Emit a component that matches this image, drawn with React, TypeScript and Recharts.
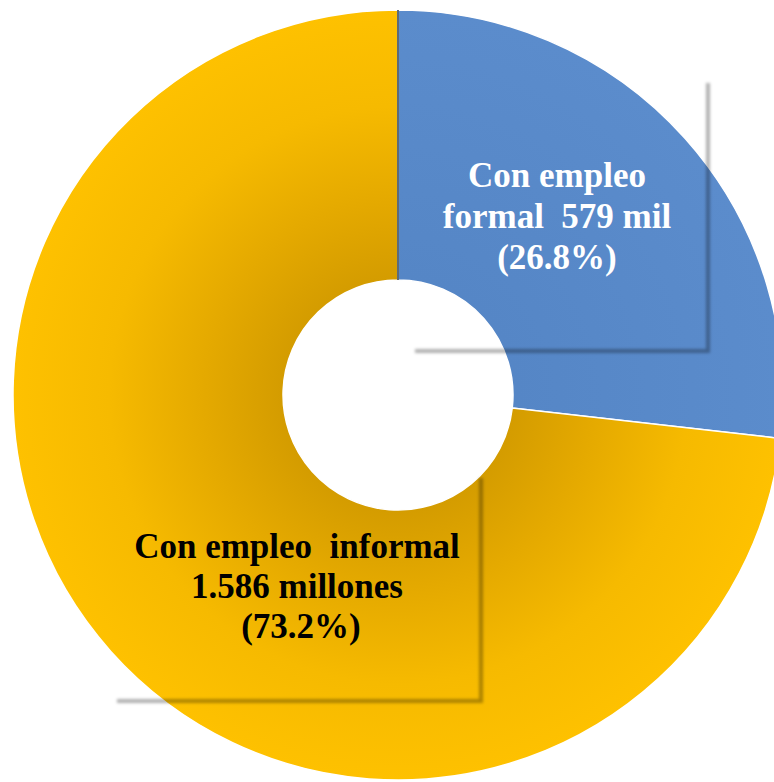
import { PieChart, Pie, Cell } from "recharts";

const categories = ["Con empleo formal", "Con empleo informal"];
const amounts = [579, 1586];
const amountLabels = ["579 mil", "1.586 millones"];
const percents = [26.8, 73.2];

const data = categories.map((name, i) => ({
  name,
  value: percents[i],
  amount: amounts[i],
}));

const CX = 398;
const CY = 395;
const OUTER = 385;
const INNER = 115;

const labelFont = { fontFamily: "'Liberation Serif', 'Times New Roman', serif", fontWeight: "bold", fontSize: 35 };

const App = () => {
  const formalLines = ["Con empleo", `formal  ${amountLabels[0]}`, `(${percents[0]}%)`];
  const informalLines = [`Con empleo  informal`, `${amountLabels[1]}`, `(${percents[1]}%)`];

  return (
    <div style={{ position: "absolute", left: 0, top: 0, width: 774, height: 782, background: "#fff" }}>
      <PieChart width={774} height={782} margin={{ top: 0, right: 0, bottom: 0, left: 0 }}>
        <defs>
          <radialGradient id="yellowShade" gradientUnits="userSpaceOnUse" cx={CX} cy={CY} r={OUTER}>
            <stop offset="0.3" stopColor="#D49C00" />
            <stop offset="0.5" stopColor="#E4A900" />
            <stop offset="0.75" stopColor="#F6BA00" />
            <stop offset="1" stopColor="#FEC100" />
          </radialGradient>
          <radialGradient id="blueShade" gradientUnits="userSpaceOnUse" cx={CX} cy={CY} r={OUTER}>
            <stop offset="0.3" stopColor="#5586C6" />
            <stop offset="1" stopColor="#5B8CCC" />
          </radialGradient>
        </defs>
        <Pie
          data={data}
          dataKey="value"
          nameKey="name"
          cx={CX}
          cy={CY}
          innerRadius={INNER}
          outerRadius={OUTER}
          startAngle={90}
          endAngle={-270}
          stroke="#ffffff"
          strokeWidth={1.5}
          isAnimationActive={false}
        >
          {data.map((d, i) => (
            <Cell key={d.name} fill={i === 0 ? "url(#blueShade)" : "url(#yellowShade)"} />
          ))}
        </Pie>
      </PieChart>
      <svg
        width={774}
        height={782}
        style={{ position: "absolute", left: 0, top: 0, pointerEvents: "none" }}
      >
        <defs>
          <filter id="soft" x="-20%" y="-20%" width="140%" height="140%">
            <feGaussianBlur stdDeviation="1.6" />
          </filter>
        </defs>
        <line x1={CX} y1={CY - OUTER} x2={CX} y2={CY - INNER} stroke="#5d6b78" strokeWidth={2} />
        <g filter="url(#soft)" stroke="#000" strokeOpacity={0.3} strokeWidth={4} fill="none">
          <polyline points="415,351 708,351 708,83" />
          <polyline points="117,701 481,701 481,478" />
        </g>
        <text textAnchor="middle" fill="#ffffff" style={labelFont}>
          {formalLines.map((t, i) => (
            <tspan key={i} x={557} y={187 + i * 41} style={{ whiteSpace: "pre" }}>
              {t}
            </tspan>
          ))}
        </text>
        <text textAnchor="middle" fill="#000000" style={labelFont}>
          {informalLines.map((t, i) => (
            <tspan key={i} x={i === 2 ? 301 : 297} y={558 + i * 40} style={{ whiteSpace: "pre" }}>
              {t}
            </tspan>
          ))}
        </text>
      </svg>
    </div>
  );
};

export default App;
